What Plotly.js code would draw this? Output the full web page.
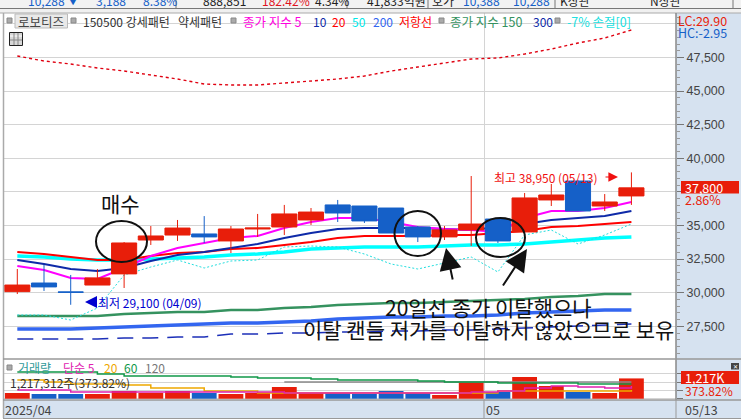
<!DOCTYPE html>
<html><head><meta charset="utf-8">
<script src="https://cdn.plot.ly/plotly-3.0.1.min.js"></script>
<style>html,body{margin:0;padding:0;background:#fff}#c{width:741px;height:420px}</style>
</head><body><div id="c"></div>
<script>
const idx=[...Array(24).keys()];
const openP =[30080,30720,30060,30570,31400,33920,34290,34370,33850,34740,34890,35410,36530,36450,36300,34890,34150,34670,35480,34520,36900,38310,36450,37200];
const closeP=[30570,30430,30030,31100,33700,34220,34810,34150,34740,34810,35860,36000,35930,35340,34440,34150,34670,35110,33850,37050,37270,36080,36750,37800];
const highP =[31760,32060,31320,31760,33770,34960,35410,35700,34960,35860,36530,36300,36900,36450,36300,34960,34960,38680,35480,37420,38090,38390,37340,38950];
const lowP  =[29900,30130,29100,30570,30350,33550,33850,33700,32950,34150,34290,35040,35260,35190,34440,33770,33920,33480,33700,34520,36450,36080,36080,36530];
const ma5 =[31987,31689,31094,31019,31838,32731,33326,33698,34070,34219,34814,35260,35558,35558,35260,34888,34739,34665,34516,35558,36079,36079,36302,36748];
const ma10=[32433,32135,31763,31615,31838,32359,32805,33028,33326,33623,34070,34442,34739,34814,34814,34814,34739,34665,34888,35111,35409,35558,35706,36079];
const ma20=[33028,32879,32656,32433,32433,32731,32954,33028,33252,33326,33549,33772,34070,34219,34219,34219,34293,34293,34442,34590,34888,34963,35111,35260];
const ma50=[32731,32656,32507,32433,32433,32507,32582,32656,32805,32879,33028,33252,33326,33400,33400,33400,33475,33549,33549,33623,33772,33921,34070,34144];
const ma150=[28267,28267,28267,28267,28415,28490,28564,28564,28713,28713,28862,28936,29085,29159,29234,29234,29308,29382,29457,29531,29680,29755,29903,29903];
const ma200=[27299,27299,27299,27374,27448,27523,27597,27671,27746,27746,27820,27895,28043,28118,28192,28192,28267,28267,28341,28490,28564,28639,28713,28713];
const ma300=[26555,26555,26555,26555,26630,26630,26704,26704,26927,26927,27002,27002,27076,27076,27151,27151,27225,27225,27299,27374,27448,27523,27597,27671];
const resist=[47611,47239,47015,46718,46495,46197,45899,45527,45453,45453,45602,45751,45899,46123,46495,46792,47090,47387,47462,47759,48131,48578,48950,49545];
const stopLoss=[28341,28341,27969,28862,31317,31912,32433,31838,32359,32433,33400,33475,33400,32879,32135,31763,32210,32656,31540,34293,34665,33623,34293,35111];
const volumeK=[342,282,282,282,462,342,462,342,282,342,702,342,342,282,462,342,222,1002,402,1302,762,402,342,1217];
const volMa5=[522,522,402,402,402,402,402,402,402,402,342,342,342,342,342,342,342,402,462,642,762,702,642,762];
const volMa20=[1122,1002,882,882,822,642,642,462,462,342,342,342,342,342,342,342,342,342,462,462,462,462,462,522];
const volMa60=[1602,1602,1602,1482,1362,1362,1362,1362,1302,1242,1242,1182,1122,1122,1122,1062,1002,1002,942,942,942,882,882,882];
const volMa120=[null,null,null,null,null,null,null,null,null,null,1002,1002,1002,1002,1002,1002,1002,1002,1002,1002,1002,1002,1002,1002];
const priceTicks=[27500,30000,32500,35000,37500,40000,42500,45000,47500,50000];
const priceTickText=['27,500','30,000','32,500','35,000','','40,000','42,500','45,000','47,500',''];
const volTicks=[0,500,1000,1500];
const monthGridAt=[17.49];

const W=741,H=420, px=v=>v/W, py=v=>1-v/H;
const KR='"Noto Sans CJK KR","Noto Sans",sans-serif';
const RED='#e81e0a',BLUE='#1560c8';
const ln=(y,color,width,dash)=>({type:'scatter',mode:'lines',x:idx,y,xaxis:'x',yaxis:'y',hoverinfo:'skip',
  line:{color,width,dash:dash||'solid'},connectgaps:false});
const vl=(y,color)=>({type:'scatter',mode:'lines',x:idx,y,xaxis:'x2',yaxis:'y2',hoverinfo:'skip',line:{color,width:1.5,shape:'hv'}});
const traces=[
 ln(resist,'#e00010',1.4,'3px,3px'),
 ln(ma300,'#1c2fb8',1.5,'16px,9px'),
 ln(ma200,'#3366f0',3.5),
 ln(ma150,'#35925f',2.5),
 ln(ma50,'#00ffff',3.5),
 ln(stopLoss,'#22dede',1,'2px,2px'),
 ln(ma20,'#ff0000',2),
 ln(ma10,'#0e2aa8',2),
 ln(ma5,'#ff00ff',2),
 {type:'candlestick',x:idx,open:openP,close:closeP,high:highP,low:lowP,xaxis:'x',yaxis:'y3',hoverinfo:'skip',
  whiskerwidth:0,
  increasing:{line:{color:RED,width:1},fillcolor:RED},
  decreasing:{line:{color:BLUE,width:1},fillcolor:BLUE}},
 {type:'bar',x:idx,y:volumeK,xaxis:'x2',yaxis:'y2',width:0.93,hoverinfo:'skip',
  marker:{color:idx.map(i=>closeP[i]>=openP[i]?RED:BLUE),line:{width:0}}},
 vl(volMa120,'#8a8a8a'),
 vl(volMa60,'#109848'),
 vl(volMa20,'#eea800'),
 vl(volMa5,'#e020b0')
];
const rect=(x0,y0,x1,y1,fill,line,layer)=>({type:'rect',xref:'paper',yref:'paper',x0:px(x0),x1:px(x1),y0:py(y0),y1:py(y1),
  fillcolor:fill||'rgba(0,0,0,0)',line:{color:line||'rgba(0,0,0,0)',width:line?1:0},layer:layer||'below'});
const hl=(x0,x1,y,c,w)=>({type:'line',xref:'paper',yref:'paper',x0:px(x0),x1:px(x1),y0:py(y),y1:py(y),line:{color:c,width:w||1},layer:'above'});
const vline=(x,y0,y1,c,w)=>({type:'line',xref:'paper',yref:'paper',x0:px(x),x1:px(x),y0:py(y0),y1:py(y1),line:{color:c,width:w||1},layer:'above'});
const circ=(x0,y0,x1,y1)=>({type:'circle',xref:'paper',yref:'paper',x0:px(x0),x1:px(x1),y0:py(y0),y1:py(y1),line:{color:'#111',width:2},fillcolor:'rgba(0,0,0,0)',layer:'above'});
const shapes=[
 rect(0,0,741,8,'#f2f2f2'),
 rect(0,9,741,13,'#f0f0f0'),
 rect(676,13,741,400,'#d6e2f0'),
 rect(3,400,741,418,'#d6e2f0'),
 hl(0,741,8.5,'#777'),hl(0,741,13,'#aaa'),
 vline(176,0,8,'#777'),vline(347,0,8,'#777'),vline(428,0,8,'#777'),vline(555,0,8,'#777'),vline(733,0,8,'#777'),
 vline(3.5,13,418,'#aaa',1.5),vline(676,13,400,'#888',1.5),
 hl(3,741,359,'#999',1.5),hl(3,741,400,'#999',1.5),hl(3,741,418.5,'#999',1),
 vline(484,400,418,'#999'),vline(676,400,418,'#999'),
 rect(15,14,67.5,28,'#e9e9e9','#bbb','above'),
 rect(7,18,12,23,'#aaa','#888','above'),rect(71,18,76,23,'#aaa','#888','above'),
 rect(231,18,236,23,'#aaa','#888','above'),rect(439,18,444,23,'#aaa','#888','above'),
 rect(555,18,560,23,'#aaa','#888','above'),rect(7,365,12,370,'#aaa','#888','above'),
 rect(9.5,32.5,22.5,45.5,'#d8d8d8','#222','above'),
 hl(10,22,36,'#fff'),hl(10,22,40,'#888'),vline(14,33,45,'#888'),vline(18,33,45,'#888'),
 rect(681,181,739,193.5,RED,null,'above'),
 rect(681,371,739,384,RED,null,'above'),
 rect(731,363,739,369.5,'#444',null,'above'),
 circ(96,221,147,262),circ(394.5,211,441,256),circ(476,218,525,257)
];
const T=(text,x,y,color,size,anchor,font)=>({text,xref:'paper',yref:'paper',x:px(x),y:py(y),xanchor:anchor||'left',yanchor:'middle',
  showarrow:false,font:{family:font||KR,size:size||12,color:color||'#333'},borderpad:0,borderwidth:0});
const Arrow=(x,y,tx,ty,color,w,head,size)=>({text:'',xref:'paper',yref:'paper',axref:'pixel',ayref:'pixel',x:px(x),y:py(y),ax:tx-x,ay:ty-y,
  showarrow:true,arrowhead:head,arrowsize:size,arrowwidth:w,arrowcolor:color});
const annotations=[
 T('10,288',28,1,'#1560c8',12),T('▼',68,1,'#1560c8',10),T('3,188',96,1,'#1560c8',12),T('8.38%',143,1,'#1560c8',12),
 T('888,851',203,1,'#222',12),T('182.42%',262,1,'#e0141e',12),T('4.34%',315,1,'#222',12),
 T('41,833억원',367,1,'#222',12),T('호가',432,1,'#222',12),T('10,388',463,1,'#1560c8',12),T('10,288',513,1,'#1560c8',12),
 T('K상관',560,1,'#222',12),T('N상관',650,1,'#222',12),
 T('로보티즈',18,21,'#444',12.5),
 T('150500 강세패턴',83,21,'#333',12),T('약세패턴',178,21,'#333',12),
 T('종가 지수 5',243,21,'#ff00e0',12.5),T('10',313,21,'#0e2aa8',12),T('20',332,21,'#ff0000',12),T('50',352,21,'#00e8e8',12),
 T('200',373,21,'#3366f0',12),T('저항선',399,21,'#ff0000',12),
 T('종가 지수 150',450,21,'#35925f',12.5),T('300',533,21,'#0e2aa8',12),T('-7% 손절[0]',567,21,'#20e0e0',12.5),
 T('LC:29.90',678,20,'#e81e0a',12.5),T('HC:-2.95',678,33,'#1560c8',12.5),
 T('37,800',685,187.5,'#fff',12.5),T('2.86%',685,199.5,'#e81e0a',12.5),
 T('1,217K',685,377.5,'#fff',12.5),T('373.82%',685,390.5,'#e81e0a',12),
 T('✕',735,366,'#fff',6,'center'),
 T('최저 29,100 (04/09)',98,302,'#0000d0',12),
 T('최고 38,950 (05/13)',494,177,'#f01010',12),
 Arrow(85,302,98,302,'#0000d0',1.5,2,1.6),
 Arrow(618,177,604,177,'#f01010',1.2,2,1.6),
 T('매수',120,203,'#111',21,'center'),
 T('20일선 종가 이탈했으나',488.5,307,'#111',21,'center'),
 T('이탈 캔들 저가를 이탈하지 않았으므로 보유',488.5,329,'#111',21,'center'),
 Arrow(446,248,453,281,'#111',2,2,2.2),
 Arrow(527,249,502,287,'#111',2,2,2.2),
 T('거래량',18,367,'#2f9a9a',12),T('단순 5',63,367,'#e020b0',12),T('20',104,367,'#eea800',12),T('60',124,367,'#109848',12),T('120',145,367,'#777',12),
 T('1,217,312주(373.82%)',10,382,'#333',12),
 T('2025/04',5,409,'#444',12.5),T('05',486,409,'#444',12.5),T('05/13',685,409,'#444',12.5)
];
const xr=[-0.536,24.67];
const yDom=[py(359),py(13)], vDom=[py(400),py(359)];
const layout={width:W,height:H,margin:{l:0,r:0,t:0,b:0},paper_bgcolor:'#fff',plot_bgcolor:'rgba(0,0,0,0)',showlegend:false,
 dragmode:false,bargap:0.07,boxgap:0.06,boxgroupgap:0,
 xaxis:{domain:[px(3),px(676)],range:xr,anchor:'y',type:'linear',tickmode:'array',tickvals:monthGridAt,showticklabels:false,ticks:'',
  showgrid:true,gridcolor:'#d4d4d4',gridwidth:1,zeroline:false,showline:false,rangeslider:{visible:false}},
 xaxis2:{domain:[px(3),px(676)],range:xr,anchor:'y2',type:'linear',tickmode:'array',tickvals:monthGridAt,showticklabels:false,ticks:'',
  showgrid:true,gridcolor:'#d4d4d4',gridwidth:1,zeroline:false,showline:false},
 yaxis:{domain:yDom,range:[25067,50810],anchor:'x',side:'right',tickmode:'array',tickvals:priceTicks,ticktext:priceTickText,
  ticks:'outside',ticklen:7,tickcolor:'#777',tickfont:{family:'"Liberation Sans",sans-serif',size:12.5,color:'#444'},
  showgrid:true,gridcolor:'#d4d4d4',gridwidth:1,zeroline:false,showline:false,
  minor:{dtick:500,ticks:'outside',ticklen:3,tickcolor:'#999',showgrid:false}},
 yaxis3:{overlaying:'y',range:[25067,50810],anchor:'x',side:'left',visible:false},
 yaxis2:{domain:vDom,range:[-78,2382],anchor:'x2',side:'right',tickmode:'array',tickvals:volTicks,showticklabels:false,
  ticks:'outside',ticklen:6,tickcolor:'#777',showgrid:true,gridcolor:'#d4d4d4',zeroline:false,showline:false},
 shapes,annotations
};
Plotly.newPlot('c',traces,layout,{displayModeBar:false,staticPlot:true});
</script></body></html>
